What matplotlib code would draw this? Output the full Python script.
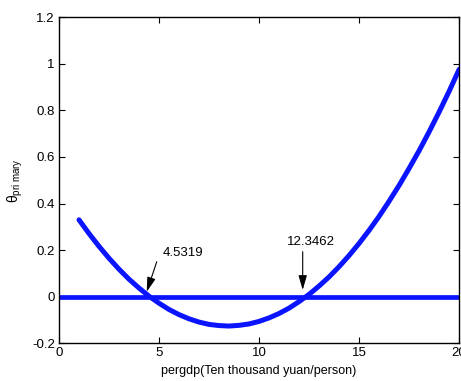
import matplotlib
matplotlib.use("Agg")
import matplotlib.pyplot as plt

plt.rcParams["font.family"] = ["Liberation Sans", "DejaVu Sans"]
plt.rcParams["mathtext.fontset"] = "custom"
plt.rcParams["mathtext.rm"] = "Liberation Sans"
plt.rcParams["mathtext.it"] = "Liberation Sans"

# values
pergdp = [1, 1.5, 2, 2.5, 3, 3.5, 4, 4.5, 5, 5.5, 6, 6.5, 7, 7.5, 8, 8.5, 9, 9.5,
          10, 10.5, 11, 11.5, 12, 12.5, 13, 13.5, 14, 14.5, 15, 15.5, 16, 16.5,
          17, 17.5, 18, 18.5, 19, 19.5, 20]
theta = [0.330, 0.271, 0.216, 0.165, 0.118, 0.075, 0.037, 0.002, -0.028, -0.055,
         -0.077, -0.095, -0.109, -0.119, -0.124, -0.126, -0.123, -0.117, -0.106,
         -0.091, -0.072, -0.049, -0.021, 0.010, 0.046, 0.085, 0.129, 0.177, 0.229,
         0.285, 0.345, 0.410, 0.478, 0.551, 0.627, 0.708, 0.793, 0.882, 0.976]
zero_x = [0, 20]
zero_y = [0, 0]

root_labels = ["4.5319", "12.3462"]
# (tip, tail, label) positions of the two annotations in data units
arrow_tips = [(4.385, 0.021), (12.18, 0.029)]
arrow_tails = [(4.885, 0.150), (12.18, 0.193)]
label_pos = [(5.2, 0.187), (11.38, 0.233)]

xticks = [0, 5, 10, 15, 20]
yticks = [-0.2, 0, 0.2, 0.4, 0.6, 0.8, 1, 1.2]
ytick_labels = ["-0.2", "0", "0.2", "0.4", "0.6", "0.8", "1", "1.2"]

fig = plt.figure(figsize=(4.61, 3.81), dpi=100)
ax = fig.add_axes([0.128, 0.099, 0.868, 0.856])

ax.plot(zero_x, zero_y, color="#0a14ff", linewidth=3.4, solid_capstyle="butt")
ax.plot(pergdp, theta, color="#0a14ff", linewidth=3.6, solid_capstyle="round")

for tip, tail, pos, lab in zip(arrow_tips, arrow_tails, label_pos, root_labels):
    ax.annotate("", xy=tip, xytext=tail,
                arrowprops=dict(arrowstyle="-|>,head_length=1.1,head_width=0.32",
                                color="black", lw=0.8, mutation_scale=8,
                                shrinkA=0, shrinkB=0))
    ax.text(pos[0], pos[1], lab, fontsize=9.5, va="center", ha="left")

ax.set_xlim(0, 20)
ax.set_ylim(-0.2, 1.2)
ax.set_xticks(xticks)
ax.set_yticks(yticks)
ax.set_yticklabels(ytick_labels)
ax.tick_params(direction="in", top=True, right=True, length=4, width=0.8,
               labelsize=9.5, pad=3)
for s in ax.spines.values():
    s.set_linewidth(1.0)

ax.set_xlabel("pergdp(Ten thousand yuan/person)", fontsize=9, labelpad=4)
ax.set_ylabel(r"$\theta_{\mathrm{pri\ mary}}$", fontsize=10, labelpad=5)

fig.savefig("out.png", dpi=100)
